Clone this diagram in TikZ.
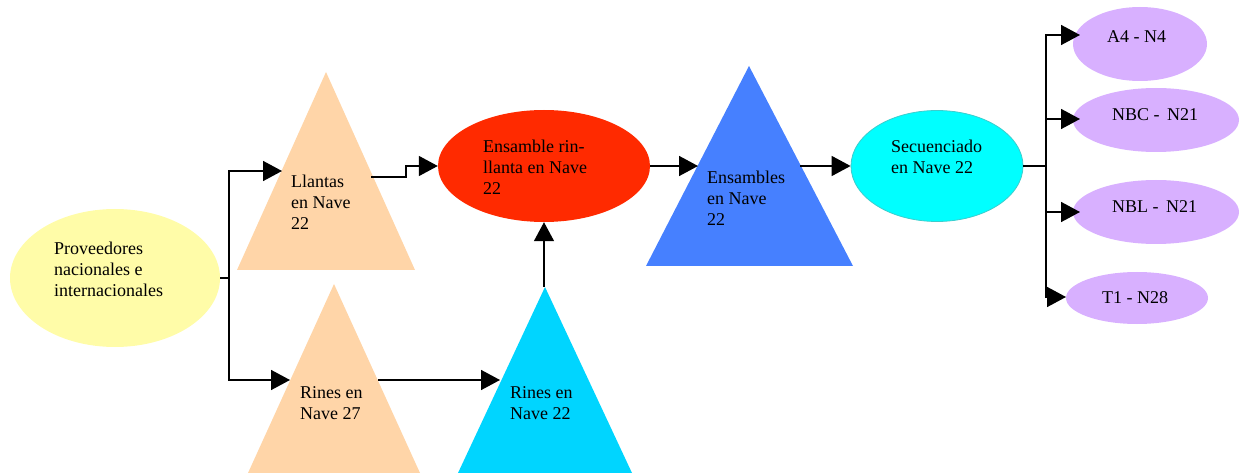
\documentclass[tikz,border=0pt]{standalone}
\usepackage{fontspec}
\setmainfont{Liberation Serif}
\usetikzlibrary{arrows.meta,shapes.geometric}
\definecolor{cYellow}{RGB}{255,252,168}
\definecolor{cPeach}{RGB}{255,213,168}
\definecolor{cRed}{RGB}{255,42,0}
\definecolor{cBlue}{RGB}{70,128,255}
\definecolor{cCyanT}{RGB}{0,213,255}
\definecolor{cCyanE}{RGB}{0,255,255}
\definecolor{cCyanB}{RGB}{60,205,205}
\definecolor{cPurple}{RGB}{216,176,255}
\newcommand{\fst}{\rule{0pt}{13pt}}
\tikzset{
  ell/.style={ellipse, inner sep=0pt, draw=none},
  txt/.style={inner sep=0pt, anchor=north west, align=left, font=\fontsize{18}{21}\selectfont},
  lbl/.style={inner sep=0pt, anchor=base west, font=\fontsize{18}{21}\selectfont},
  ln/.style={line width=1.6pt, black},
  arr/.style={ln, -{Triangle[length=19pt,width=20pt]}},
}
\begin{document}
\begin{tikzpicture}[x=1pt,y=-1pt]
\useasboundingbox (0,0) rectangle (1243,473);
% shapes
\node[ell, fill=cYellow, minimum width=210pt, minimum height=138pt] (prov) at (115,278) {};
\fill[cPeach] (326,72) -- (415,270) -- (237,270) -- cycle;
\fill[cPeach] (334,284) -- (420,473) -- (248,473) -- cycle;
\fill[cCyanT] (545,287) -- (632,473) -- (458,473) -- cycle;
\node[ell, fill=cRed, minimum width=212pt, minimum height=112pt] (red) at (544,166) {};
\fill[cBlue] (749,66) -- (853,266) -- (646,266) -- cycle;
\node[ell, fill=cCyanE, draw=cCyanB, line width=0.8pt, minimum width=172pt, minimum height=111pt] (sec) at (937,166) {};
\node[ell, fill=cPurple, minimum width=134pt, minimum height=74pt] (a4) at (1140,44) {};
\node[ell, fill=cPurple, minimum width=166pt, minimum height=64pt] (nbc) at (1156,120) {};
\node[ell, fill=cPurple, minimum width=166pt, minimum height=64pt] (nbl) at (1156,212) {};
\node[ell, fill=cPurple, minimum width=142pt, minimum height=52pt] (t1) at (1137,298) {};
% texts
\node[txt] (tprov) at (54,241) {\fst Proveedores\\nacionales e\\internacionales};
\node[txt] (tll) at (291,174) {\fst Llantas\\en Nave\\22};
\node[txt] (tr27) at (300,385) {\fst Rines en\\Nave 27};
\node[txt] (tr22) at (510,385) {\fst Rines en\\Nave 22};
\node[txt] (tred) at (483,139) {\fst Ensamble rin-\\llanta en Nave\\22};
\node[txt] (tens) at (707,170) {\fst Ensambles\\en Nave\\22};
\node[txt] (tsec) at (891,139) {\fst Secuenciado\\en Nave 22};
\node[lbl] (ta4) at (1107,43) {A4 - N4};
\node[lbl] (tnbc) at (1112,121) {NBC -\, N21};
\node[lbl] (tnbl) at (1112,213) {NBL -\, N21};
\node[lbl] (tt1) at (1102,303) {T1 - N28};
% connection points
\coordinate (s1) at (229,278);
\coordinate (llIn) at (282,171);
\coordinate (r27In) at (290,380);
\coordinate (llOut) at (371,177);
\coordinate (k1) at (406,177);
\coordinate (r27Out) at (378,380);
\coordinate (r22In) at (500,380);
\coordinate (r22Top) at (544,287);
\coordinate (ensIn) at (698,166);
\coordinate (ensOut) at (800,166);
\coordinate (s2) at (1046,166);
\coordinate (a4In) at (1080,35);
\coordinate (nbcIn) at (1080,119);
\coordinate (nblIn) at (1080,212);
\coordinate (t1In) at (1066,297);
% connectors
\draw[ln] (prov.east) -- (s1);
\draw[arr] (s1) |- (llIn);
\draw[arr] (s1) |- (r27In);
\draw[arr] (llOut) -- (k1) |- (red.west);
\draw[arr] (r27Out) -- (r22In);
\draw[arr] (r22Top) -- (red.south);
\draw[arr] (red.east) -- (ensIn);
\draw[arr] (ensOut) -- (sec.west);
\draw[ln, line width=2.4pt] (sec.east) -- (s2);
\draw[arr] (s2) |- (a4In);
\draw[arr] (s2) |- (nbcIn);
\draw[arr] (s2) |- (nblIn);
\draw[arr] (s2) |- (t1In);
\end{tikzpicture}
\end{document}
